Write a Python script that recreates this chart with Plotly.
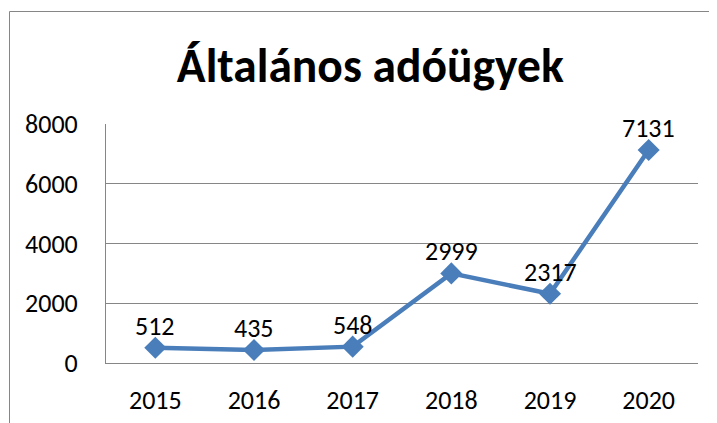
import plotly.graph_objects as go

years = ["2015", "2016", "2017", "2018", "2019", "2020"]
values = [512, 435, 548, 2999, 2317, 7131]
y_ticks = [0, 2000, 4000, 6000, 8000]
title_text = "Általános adóügyek"

FONT = "Carlito, Calibri, Lato, sans-serif"
BLUE = "#4A7EBB"
GRAY = "#868686"

# page has an 8px body margin, so the figure is sized to fit the window
W, H = 709, 415
L, R, T, B = 98, 19, 116, 60
pw, ph = W - L - R, H - T - B

def px_to_paper_x(px):
    return (px - L) / pw

def px_to_paper_y(py):
    return (H - B - py) / ph

fig = go.Figure()
fig.add_trace(go.Scatter(
    x=years, y=values,
    mode="lines+markers",
    line=dict(color=BLUE, width=4.5),
    marker=dict(symbol="diamond", size=17, color=BLUE),
    cliponaxis=False,
    showlegend=False,
))

annotations = [
    dict(x=i, y=v, xref="x", yref="y", text=str(v), showarrow=False,
         yshift=22, yanchor="middle", xanchor="center",
         font=dict(family=FONT, size=26, color="#000000"))
    for i, v in enumerate(values)
]

fig.update_layout(
    template="none",
    width=W, height=H,
    margin=dict(l=L, r=R, t=T, b=B, pad=0, autoexpand=False),
    paper_bgcolor="white",
    plot_bgcolor="white",
    font=dict(family=FONT, color="#000000"),
    title=dict(text="<b>" + title_text + "</b>", x=0.511, xanchor="center",
               y=1 - 57 / H, yanchor="middle", automargin=False,
               font=dict(family=FONT, size=47.5, color="#000000")),
    xaxis=dict(
        type="category",
        automargin=False,
        showgrid=False,
        showline=True, linecolor=GRAY, linewidth=1,
        ticks="", tickfont=dict(family=FONT, size=26),
        ticklabelstandoff=14,
        range=[-0.5, 5.5],
        fixedrange=True,
    ),
    yaxis=dict(
        range=[0, 8000],
        automargin=False,
        tickvals=y_ticks,
        showgrid=True, gridcolor=GRAY, gridwidth=1,
        showline=True, linecolor=GRAY, linewidth=1,
        zeroline=False,
        ticks="", tickfont=dict(family=FONT, size=26),
        ticklabelstandoff=22,
        fixedrange=True,
    ),
    annotations=annotations,
    shapes=[dict(
        type="rect", xref="paper", yref="paper",
        x0=px_to_paper_x(1.5), x1=px_to_paper_x(730),
        y0=px_to_paper_y(440), y1=px_to_paper_y(3.5),
        line=dict(color=GRAY, width=1), fillcolor="rgba(0,0,0,0)",
        layer="below",
    )],
)

fig.write_html("out.html")
